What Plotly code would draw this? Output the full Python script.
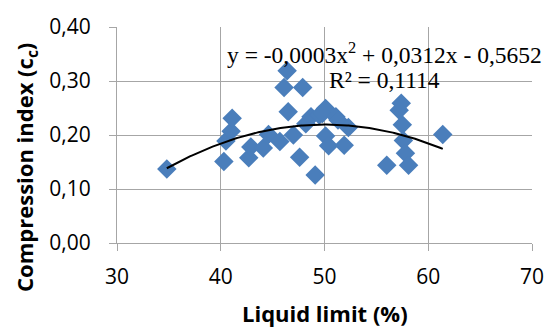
import numpy as np
import plotly.graph_objects as go

# Data
liquid_limit = [34.8, 40.3, 40.5, 41.0, 41.1, 42.7, 42.9, 44.1, 44.6, 45.7,
                46.4, 46.1, 47.9, 46.5, 47.0, 47.6, 49.1, 48.2, 48.7, 49.5,
                50.1, 49.8, 51.1, 51.3, 52.3, 50.1, 50.4, 51.9, 57.4, 57.2,
                57.5, 57.6, 57.8, 58.1, 56.0, 61.4]
comp_index = [0.137, 0.151, 0.189, 0.207, 0.231, 0.158, 0.178, 0.176, 0.201, 0.188,
              0.319, 0.288, 0.288, 0.243, 0.200, 0.159, 0.126, 0.221, 0.234, 0.237,
              0.249, 0.240, 0.234, 0.228, 0.214, 0.198, 0.180, 0.181, 0.259, 0.246,
              0.219, 0.190, 0.166, 0.144, 0.144, 0.201]

x_ticks = [30, 40, 50, 60, 70]
x_tick_labels = ["30", "40", "50", "60", "70"]
y_ticks = [0.0, 0.1, 0.2, 0.3, 0.4]
y_tick_labels = ["0,00", "0,10", "0,20", "0,30", "0,40"]

eq_line1 = "y = -0,0003x<sup>2</sup> + 0,0312x - 0,5652"
eq_line2 = "R² = 0,1114"

# Polynomial (order 2) trendline fitted to the data
coef = np.polyfit(liquid_limit, comp_index, 2)
xs = np.linspace(min(liquid_limit), max(liquid_limit), 200)
ys = np.polyval(coef, xs)

grid = "#a6a6a6"
tick_font = dict(family="Open Sans", size=21, color="#000000")
title_font = dict(family="Open Sans", size=22, color="#000000")
eq_font = dict(family="Liberation Serif", size=23.5, color="#000000")

fig = go.Figure()
fig.add_trace(go.Scatter(
    x=liquid_limit, y=comp_index, mode="markers",
    marker=dict(symbol="diamond", size=15, color="#4A7EBB", line=dict(width=0)),
    showlegend=False, hoverinfo="skip"))
fig.add_trace(go.Scatter(
    x=xs, y=ys, mode="lines", line=dict(color="#000000", width=2),
    showlegend=False, hoverinfo="skip"))

fig.update_layout(
    width=556, height=328,
    margin=dict(l=117, r=15, t=22, b=85),
    paper_bgcolor="white", plot_bgcolor="white",
    xaxis=dict(range=[30, 70], tickvals=x_ticks, ticktext=x_tick_labels,
               showgrid=True, gridcolor=grid, gridwidth=1,
               showline=True, linecolor=grid, linewidth=1,
               ticks="outside", ticklen=7, tickcolor=grid,
               tickfont=tick_font, zeroline=False, mirror=False,
               ticklabelstandoff=8),
    yaxis=dict(range=[0, 0.4], tickvals=y_ticks, ticktext=y_tick_labels,
               showgrid=True, gridcolor=grid, gridwidth=1,
               showline=True, linecolor=grid, linewidth=1,
               ticks="outside", ticklen=7, tickcolor=grid,
               tickfont=tick_font, zeroline=False,
               ticklabelstandoff=14),
    annotations=[
        dict(text=eq_line1, x=55.8, y=0.351, xref="x", yref="y",
             showarrow=False, xanchor="center", yanchor="middle", font=eq_font),
        dict(text=eq_line2, x=55.8, y=0.302, xref="x", yref="y",
             showarrow=False, xanchor="center", yanchor="middle", font=eq_font),
        dict(text="<b>Liquid limit (%)</b>", x=0.5, y=-0.325,
             xref="paper", yref="paper", showarrow=False,
             xanchor="center", yanchor="middle", font=title_font),
        dict(text="<b>Compression index (c<sub>c</sub>)</b>", x=-0.219, y=0.348,
             xref="paper", yref="paper", showarrow=False, textangle=-90,
             xanchor="center", yanchor="middle", font=title_font),
    ],
)

fig.write_html("out.html")
